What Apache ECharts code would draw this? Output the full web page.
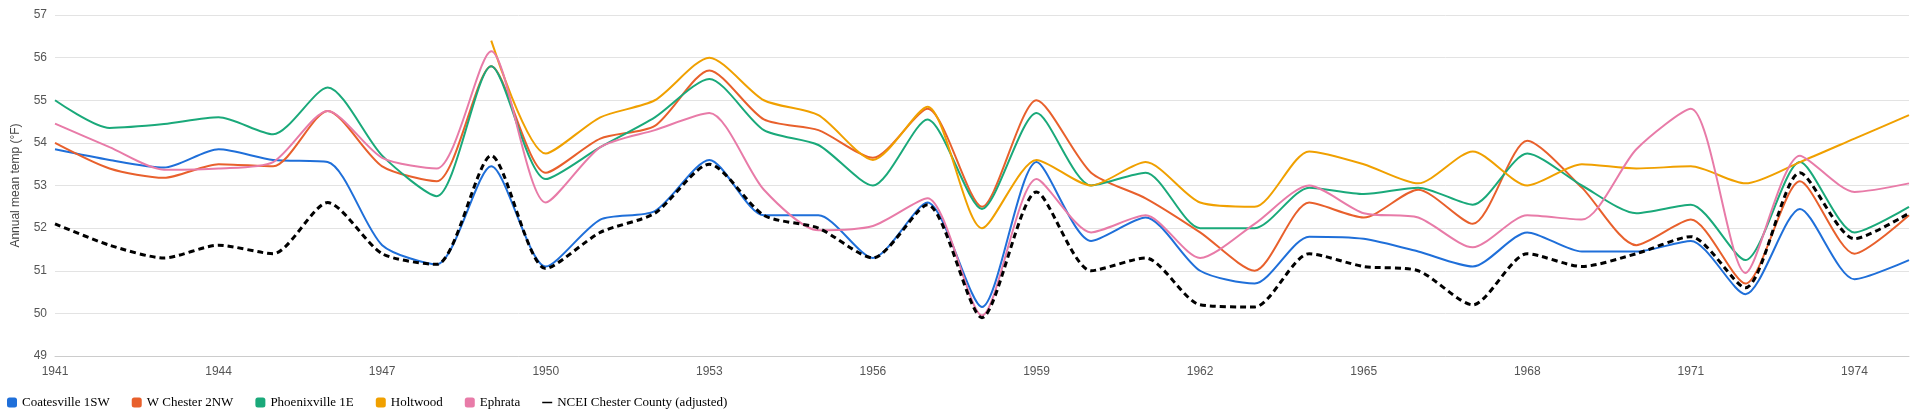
<!DOCTYPE html>
<html>
<head>
<meta charset="utf-8">
<script src="https://cdn.jsdelivr.net/npm/echarts@6/dist/echarts.min.js"></script>
<style>html,body{margin:0;padding:0;background:#fff}#main{width:1912px;height:416px}</style>
</head>
<body>
<div id="main"></div>
<script>
var years = [];
for (var y = 1941; y <= 1975; y++) years.push(String(y));

var coatesville = [53.85,53.6,53.42,53.85,53.6,53.55,51.6,51.15,53.45,51.1,52.2,52.4,53.6,52.3,52.3,51.3,52.6,50.15,53.55,51.7,52.25,51.0,50.7,51.8,51.75,51.45,51.1,51.9,51.45,51.45,51.7,50.45,52.45,50.8,51.25];
var wchester = [54.0,53.4,53.18,53.5,53.45,54.75,53.45,53.1,55.8,53.3,54.1,54.4,55.7,54.55,54.3,53.65,54.8,52.5,55.0,53.3,52.7,51.9,51.0,52.6,52.25,52.9,52.1,54.05,52.95,51.6,52.2,50.7,53.1,51.4,52.3];
var phoenixville = [55.0,54.35,54.44,54.6,54.2,55.3,53.7,52.75,55.8,53.15,53.9,54.6,55.5,54.3,53.95,53.0,54.55,52.45,54.7,53.0,53.3,52.0,52.0,52.95,52.8,52.95,52.55,53.75,53.0,52.35,52.55,51.25,53.55,51.9,52.5];
var holtwood = [null,null,null,null,null,null,null,null,56.4,53.75,54.6,55.0,56.0,55.0,54.65,53.6,54.85,52.0,53.6,53.0,53.55,52.6,52.5,53.8,53.5,53.05,53.8,53.0,53.5,53.4,53.45,53.05,53.55,54.1,54.65];
var ephrata = [54.45,53.9,53.37,53.4,53.55,54.75,53.65,53.4,56.15,52.6,53.9,54.3,54.7,52.9,51.95,52.05,52.7,49.95,53.15,51.9,52.3,51.3,52.1,53.0,52.35,52.25,51.55,52.3,52.2,53.85,54.8,50.95,53.7,52.85,53.05];
var ncei = [52.1,51.6,51.3,51.6,51.4,52.6,51.4,51.15,53.7,51.05,51.9,52.35,53.5,52.3,52.0,51.3,52.55,49.9,52.85,51.0,51.3,50.2,50.15,51.4,51.1,51.0,50.2,51.4,51.1,51.4,51.8,50.6,53.3,51.75,52.35];

var names = ['Coatesville 1SW','W Chester 2NW','Phoenixville 1E','Holtwood','Ephrata','NCEI Chester County (adjusted)'];
var colors = ['#1f6fd9','#e8602c','#1aa97a','#f0a000','#e87ba8','#000000'];
var datasets = [coatesville, wchester, phoenixville, holtwood, ephrata, ncei];

var series = datasets.map(function (d, i) {
    var s = {
        name: names[i],
        type: 'line',
        data: d,
        smooth: 0.25,
        showSymbol: false,
        lineStyle: { width: 2, color: colors[i] },
        itemStyle: { color: colors[i] }
    };
    if (i == 5) {
        s.lineStyle = { width: 3, color: '#000', type: [6, 4] };
    }
    return s;
});

var myChart = echarts.init(document.getElementById('main'));
myChart.setOption({
    animation: false,
    color: colors,
    grid: { left: 55, right: 3, top: 15, bottom: 60 },
    legend: {
        left: 2, bottom: 2,
        itemWidth: 10, itemHeight: 10, itemGap: 22,
        icon: 'roundRect',
        textStyle: { fontFamily: 'Liberation Serif', fontSize: 13, color: '#000' },
        data: names.map(function (n, i) {
            return i == 5 ? { name: n, icon: 'path://M0,4L20,4L20,7L0,7Z', itemStyle: { color: '#000' } } : { name: n };
        })
    },
    xAxis: {
        type: 'category',
        data: years,
        boundaryGap: false,
        axisLine: { lineStyle: { color: '#ccc' } },
        axisTick: { show: false },
        axisLabel: { interval: 2, color: '#555', fontFamily: 'Arial', fontSize: 12, margin: 10 },
        splitLine: { show: false }
    },
    yAxis: {
        type: 'value',
        min: 49, max: 57, interval: 1,
        name: 'Annual mean temp (°F)',
        nameLocation: 'middle',
        nameGap: 33,
        nameTextStyle: { color: '#444', fontFamily: 'Arial', fontSize: 12 },
        axisLine: { show: false },
        axisTick: { show: false },
        axisLabel: { color: '#555', fontFamily: 'Arial', fontSize: 12 },
        splitLine: { lineStyle: { color: '#e3e3e3' } }
    },
    series: series
});
</script>
</body>
</html>
